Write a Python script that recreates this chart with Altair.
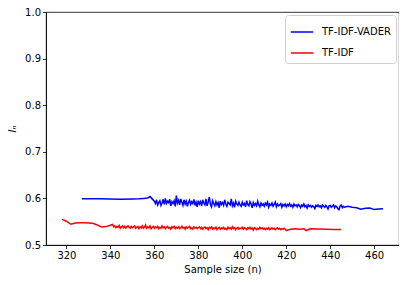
import altair as alt
import pandas as pd

# ---- data ----
series_names = ["TF-IDF-VADER", "TF-IDF"]
series_colors = ["#0000ff", "#ff0000"]

vader_head_n = [327, 330, 335, 340, 345, 350, 353, 355, 357, 358, 359]
vader_head_v = [0.5995, 0.5993, 0.5990, 0.5985, 0.5983, 0.5988, 0.5990, 0.6000, 0.6010, 0.6040, 0.5990]

# dense part: sample sizes 360.0 ... 446.5 in half steps
vader_dense_n = [k / 2 for k in range(720, 894)]
vader_dense_v = [
    0.594, 0.589, 0.597, 0.586, 0.591, 0.595, 0.585, 0.590, 0.598, 0.587, 0.600, 0.589, 0.594, 0.591, 0.598, 0.584, 0.593, 0.589, 0.595, 0.583,
    0.606, 0.590, 0.596, 0.586, 0.599, 0.592, 0.585, 0.597, 0.588, 0.594, 0.583, 0.591, 0.596, 0.587, 0.593, 0.589, 0.598, 0.585, 0.592, 0.582,
    0.595, 0.588, 0.593, 0.584, 0.597, 0.590, 0.586, 0.599, 0.584, 0.592, 0.603, 0.587, 0.582, 0.595, 0.589, 0.584, 0.593, 0.586, 0.591, 0.580,
    0.594, 0.587, 0.591, 0.585, 0.597, 0.588, 0.583, 0.592, 0.589, 0.586, 0.599, 0.584, 0.590, 0.581, 0.594, 0.588, 0.585, 0.592, 0.586, 0.583,
    0.592, 0.586, 0.589, 0.582, 0.595, 0.587, 0.584, 0.593, 0.588, 0.580, 0.591, 0.585, 0.589, 0.584, 0.594, 0.586, 0.582, 0.590, 0.585, 0.588,
    0.583, 0.590, 0.586, 0.592, 0.581, 0.588, 0.585, 0.590, 0.583, 0.587, 0.592, 0.582, 0.588, 0.584, 0.586, 0.589, 0.581, 0.587, 0.584, 0.588,
    0.582, 0.587, 0.584, 0.589, 0.583, 0.586, 0.581, 0.588, 0.584, 0.586, 0.582, 0.587, 0.585, 0.580, 0.586, 0.583, 0.588, 0.582, 0.585, 0.579,
    0.586, 0.583, 0.585, 0.581, 0.584, 0.582, 0.578, 0.585, 0.583, 0.586, 0.582, 0.584, 0.580, 0.586, 0.583, 0.581, 0.585, 0.582, 0.577, 0.584,
    0.585, 0.581, 0.583, 0.586, 0.580, 0.584, 0.582, 0.578, 0.576, 0.584, 0.586, 0.580, 0.583, 0.581,
]

vader_tail_n = [448, 450, 452, 454, 456, 458, 460, 462, 464]
vader_tail_v = [0.583, 0.581, 0.580, 0.577, 0.579, 0.5795, 0.576, 0.577, 0.578]

tfidf_head_n = [318, 320, 322, 324, 326, 328, 330, 332, 334, 336, 338, 340]
tfidf_head_v = [0.555, 0.551, 0.5445, 0.547, 0.5475, 0.5475, 0.547, 0.5465, 0.543, 0.5385, 0.5395, 0.5425]

# dense part: sample sizes 341.0 ... 419.5 in half steps
tfidf_dense_n = [k / 2 for k in range(682, 840)]
tfidf_dense_v = [
    0.544, 0.539, 0.541, 0.537, 0.540, 0.538, 0.542, 0.536, 0.539, 0.541, 0.537, 0.540, 0.536, 0.539, 0.541, 0.538, 0.536, 0.540, 0.537, 0.539,
    0.541, 0.536, 0.538, 0.540, 0.535, 0.539, 0.537, 0.541, 0.536, 0.538, 0.543, 0.536, 0.539, 0.537, 0.541, 0.535, 0.538, 0.540, 0.536, 0.539,
    0.537, 0.540, 0.535, 0.538, 0.536, 0.541, 0.537, 0.539, 0.535, 0.538, 0.540, 0.536, 0.538, 0.534, 0.539, 0.537, 0.540, 0.535, 0.538, 0.536,
    0.539, 0.535, 0.537, 0.540, 0.536, 0.538, 0.534, 0.539, 0.536, 0.538, 0.540, 0.535, 0.537, 0.534, 0.539, 0.536, 0.538, 0.535, 0.537, 0.539,
    0.535, 0.538, 0.534, 0.537, 0.539, 0.535, 0.537, 0.533, 0.538, 0.536, 0.539, 0.534, 0.537, 0.535, 0.538, 0.533, 0.536, 0.538, 0.534, 0.537,
    0.535, 0.538, 0.534, 0.536, 0.533, 0.538, 0.535, 0.537, 0.534, 0.539, 0.535, 0.537, 0.533, 0.536, 0.538, 0.534, 0.536, 0.535, 0.538, 0.534,
    0.537, 0.535, 0.533, 0.537, 0.535, 0.538, 0.534, 0.536, 0.532, 0.537, 0.535, 0.533, 0.536, 0.534, 0.538, 0.535, 0.537, 0.534, 0.536, 0.533,
    0.536, 0.534, 0.537, 0.533, 0.535, 0.537, 0.534, 0.536, 0.533, 0.535, 0.537, 0.534, 0.536, 0.533, 0.535, 0.534, 0.536, 0.534,
]

tfidf_tail_n = [420, 422, 424, 426, 428, 429, 431, 434, 438, 442, 445]
tfidf_tail_v = [0.531, 0.534, 0.535, 0.534, 0.535, 0.531, 0.535, 0.5345, 0.534, 0.5335, 0.5335]

x_ticks = [320, 340, 360, 380, 400, 420, 440, 460]
y_ticks = [0.5, 0.6, 0.7, 0.8, 0.9, 1.0]

# ---- table ----
vn = vader_head_n + vader_dense_n + vader_tail_n
vv = vader_head_v + vader_dense_v + vader_tail_v
tn = tfidf_head_n + tfidf_dense_n + tfidf_tail_n
tv = tfidf_head_v + tfidf_dense_v + tfidf_tail_v
df = pd.concat([
    pd.DataFrame({"n": vn, "v": vv, "series": series_names[0], "order": range(len(vn))}),
    pd.DataFrame({"n": tn, "v": tv, "series": series_names[1], "order": range(len(tn))}),
])

font = "DejaVu Sans"

chart = alt.Chart(df).mark_line(strokeWidth=1.5, clip=True).encode(
    x=alt.X("n:Q", scale=alt.Scale(domain=[310.7, 471.3], nice=False, zero=False),
            axis=alt.Axis(title="Sample size (n)", values=x_ticks, format="d")),
    y=alt.Y("v:Q", scale=alt.Scale(domain=[0.5, 1.0], nice=False, zero=False),
            axis=alt.Axis(title="Iₙ", values=y_ticks, format=".1f", titleFontStyle="italic")),
    color=alt.Color("series:N",
                    scale=alt.Scale(domain=series_names, range=series_colors),
                    sort=series_names,
                    legend=alt.Legend(title=None, orient="top-right", offset=3,
                                      symbolType="stroke", symbolSize=500, symbolStrokeWidth=1.5,
                                      strokeColor="#d0d0d0", fillColor="white", cornerRadius=3,
                                      padding=5, rowPadding=4, labelOffset=8,
                                      labelFontSize=10, labelFont=font, labelColor="black")),
    order="order:Q",
).properties(
    width=353, height=233,
    autosize=alt.AutoSizeParams(type="none"),
    padding={"left": 38, "top": 4, "right": 0, "bottom": 30},
).configure_view(
    stroke="black", strokeWidth=0.8
).configure_axis(
    grid=False, domain=True, domainColor="black", domainWidth=0.8,
    tickColor="black", tickSize=3.5, tickWidth=0.8,
    labelFont=font, labelFontSize=10, labelColor="black", labelPadding=2,
    titleFont=font, titleFontSize=10, titleColor="black", titleFontWeight="normal",
).configure_axisX(titlePadding=4).configure_axisY(titlePadding=7)

chart.save("out.html", embed_options={"renderer": "svg", "actions": False})
